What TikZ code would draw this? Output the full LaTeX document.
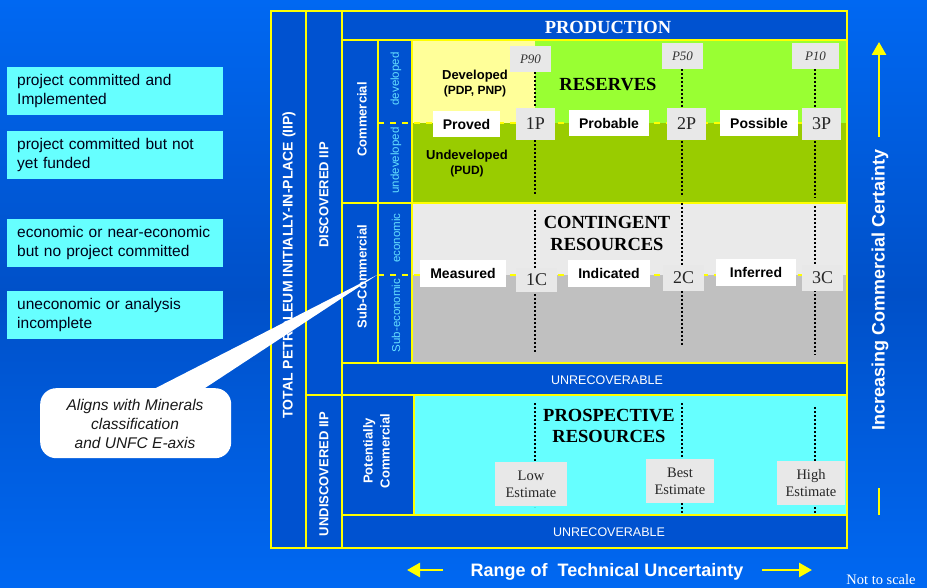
\documentclass[tikz,border=0pt]{standalone}
\usepackage{fontspec}
\setmainfont{Liberation Serif}
\setsansfont{Liberation Sans}
\usetikzlibrary{arrows.meta}
\newcommand{\fsz}[2]{\fontsize{#1}{#2}\selectfont}
\definecolor{bgtop}{HTML}{0068F2}
\definecolor{bgmid}{HTML}{0050C8}
\definecolor{boxblue}{HTML}{0052D0}
\definecolor{yel}{HTML}{FFFF00}
\definecolor{cyanbox}{HTML}{66FFFF}
\definecolor{cyantxt}{HTML}{66E0FF}
\definecolor{resgreen}{HTML}{99FF33}
\definecolor{undgreen}{HTML}{99CC00}
\definecolor{devyellow}{HTML}{FFFF99}
\definecolor{contlight}{HTML}{EAEAEA}
\definecolor{contgrey}{HTML}{C0C0C0}
\definecolor{labgrey}{HTML}{E8E8E8}
\begin{document}
\begin{tikzpicture}[x=1pt,y=-1pt,
 frame/.style={draw=yel,line width=2pt},
 dashy/.style={draw=yel,line width=1.6pt,dash pattern=on 6pt off 6pt},
 dotln/.style={draw=black,line width=2pt,dash pattern=on 2pt off 2pt},
 title/.style={font=\rmfamily\bfseries\fsz{18.5}{21.5},align=center,text=black},
 wlbl/.style={fill=white,font=\sffamily\bfseries\fsz{14}{16},text=black,inner sep=0pt,minimum height=26pt},
 glbl/.style={fill=labgrey,font=\rmfamily\fsz{18}{20},text=black!85,inner sep=0pt},
 plbl/.style={fill=labgrey,font=\rmfamily\itshape\fsz{13}{15},text=black!80,inner sep=0pt,minimum height=26pt},
 elbl/.style={fill=labgrey,font=\rmfamily\fsz{14.5}{17},text=black!85,inner sep=0pt,align=center,minimum height=44pt},
 vlbl/.style={rotate=90,font=\sffamily\bfseries\fsz{13}{17},text=white,align=center},
 clbl/.style={rotate=90,font=\sffamily\fsz{11.5}{13},text=cyantxt},
 devtxt/.style={font=\sffamily\bfseries\fsz{13}{15},text=black,align=center},
 leftbox/.style={fill=cyanbox,anchor=north west,minimum width=216pt,minimum height=48pt,text width=196pt,inner xsep=10pt,inner ysep=0pt,align=left,font=\sffamily\fsz{15.5}{19},text=black!90!blue},
 arr/.style={draw=yel,line width=2.7pt,-{Triangle[width=14pt,length=13pt]}},
 unrec/.style={font=\sffamily\fsz{12.5}{14},text=white}
]
% background
\shade[top color=bgtop,bottom color=bgtop,middle color=bgmid] (0,0) rectangle (927,588);
\useasboundingbox (0,0) rectangle (927,588);

% left explanation boxes
\node[leftbox] (lb1) at (7,67) {project committed and\\Implemented};
\node[leftbox] (lb2) at (7,131) {project committed but not\\yet funded};
\node[leftbox] (lb3) at (7,219) {economic or near-economic\\but no project committed};
\node[leftbox] (lb4) at (7,291) {uneconomic or analysis\\incomplete};

% frame fills
\fill[boxblue] (271,11) rectangle (847,548);
\fill[resgreen] (412,40) rectangle (847,123);
\fill[undgreen] (412,123) rectangle (847,203);
\fill[devyellow] (413,41) rectangle (535,123);
\fill[contlight] (412,203) rectangle (847,275);
\fill[contgrey] (412,275) rectangle (847,363);
\fill[cyanbox] (414,395) rectangle (847,515);

% dashed dividers
\draw[dashy] (378,123) -- (847,123);
\draw[dashy] (378,275) -- (847,275);

% frame lines
\draw[frame] (271,11) rectangle (847,548);
\draw[frame] (306,11) -- (306,548);
\draw[frame] (342,11) -- (342,548);
\draw[frame] (342,40) -- (847,40);
\draw[frame] (306,395) -- (847,395);
\draw[frame] (342,203) -- (847,203);
\draw[frame] (342,363) -- (847,363);
\draw[frame] (342,515) -- (847,515);
\draw[frame] (378,40) -- (378,363);
\draw[frame] (412,40) -- (412,363);
\draw[frame] (414,395) -- (414,515);

% dotted lines
\draw[dotln] (535,72) -- (535,195);
\draw[dotln] (682,69) -- (682,195);
\draw[dotln] (815,69) -- (815,198);
\draw[dotln] (535,210) -- (535,353);
\draw[dotln] (682,203) -- (682,345);
\draw[dotln] (815,206) -- (815,355);
\draw[dotln] (535,403) -- (535,507);
\draw[dotln] (682,403) -- (682,513);
\draw[dotln] (815,407) -- (815,513);

% titles
\node[font=\rmfamily\bfseries\fsz{18.5}{21},text=white] (prod) at (608,27) {PRODUCTION};
\node[title] (res) at (608,85) {RESERVES};
\node[title] (cont) at (607,233.5) {CONTINGENT\\RESOURCES};
\node[title] (prosp) at (609,426) {PROSPECTIVE\\RESOURCES};

% developed / undeveloped texts
\node[devtxt] (dev) at (475,84) {Developed\\{\fsz{12}{15}(PDP, PNP)}};
\node[devtxt] (undev) at (467,164) {Undeveloped\\{\fsz{12}{15}(PUD)}};

% P labels
\node[plbl,minimum width=41pt] (p90) at (530.5,59) {P90};
\node[plbl,minimum width=41pt] (p50) at (682.5,56) {P50};
\node[plbl,minimum width=47pt] (p10) at (815.5,56) {P10};

% reserves row
\node[wlbl,minimum width=67pt] (proved) at (466.5,124) {Proved};
\node[glbl,minimum width=39pt,minimum height=32pt] (p1) at (535.5,124) {1P};
\node[wlbl,minimum width=80pt] (probable) at (609,123) {Probable};
\node[glbl,minimum width=39pt,minimum height=32pt] (p2) at (686.5,124) {2P};
\node[wlbl,minimum width=78pt] (possible) at (759,123) {Possible};
\node[glbl,minimum width=39pt,minimum height=32pt] (p3) at (821.5,124) {3P};

% contingent row
\node[wlbl,minimum width=86pt,minimum height=27pt] (measured) at (463,273.5) {Measured};
\node[glbl,minimum width=41pt,minimum height=24pt] (c1) at (536.5,280) {1C};
\node[wlbl,minimum width=82pt,minimum height=27pt] (indicated) at (609,273.5) {Indicated};
\node[glbl,minimum width=41pt,minimum height=26pt] (c2) at (683.5,278) {2C};
\node[wlbl,minimum width=80pt,minimum height=27pt] (inferred) at (756,272.5) {Inferred};
\node[glbl,minimum width=41pt,minimum height=26pt] (c3) at (822.5,278) {3C};

% estimates
\node[elbl,minimum width=72pt] (low) at (531,484) {Low\\Estimate};
\node[elbl,minimum width=68pt] (best) at (680,481) {Best\\Estimate};
\node[elbl,minimum width=68pt] (high) at (811,483) {High\\Estimate};

% unrecoverable
\node[unrec] (unrec1) at (607,380) {UNRECOVERABLE};
\node[unrec] (unrec2) at (609,532) {UNRECOVERABLE};

% vertical column labels
\node[vlbl,font=\sffamily\bfseries\fsz{14}{17}] (total) at (289,265) {TOTAL PETROLEUM INITIALLY-IN-PLACE (IIP)};
\node[vlbl] (disc) at (324,195) {DISCOVERED IIP};
\node[vlbl] (undisc) at (324,474) {UNDISCOVERED IIP};
\node[vlbl] (comm) at (362,119.5) {Commercial};
\node[vlbl] (subcomm) at (362,276.5) {Sub-Commercial};
\node[vlbl] (potcomm) at (376.5,451) {Potentially\\Commercial};
\node[clbl] (devd) at (396,79) {developed};
\node[clbl] (undevd) at (396,160.5) {undeveloped};
\node[clbl] (econ) at (396,238) {economic};
\node[clbl] (subecon) at (396,315.5) {Sub-economic};

% callout
\node[fill=white,rounded corners=16pt,minimum width=191pt,minimum height=70pt,anchor=north west] (callout) at (40,388) {};
\node[font=\sffamily\itshape\fsz{15.5}{19},text=black!90,align=center] (callouttxt) at (135,424) {Aligns with Minerals\\classification\\and UNFC E-axis};
\coordinate (tip) at (377,275);
\fill[white] ([xshift=112pt,yshift=-2pt]callout.north west) -- (tip) -- ([xshift=162pt,yshift=-2pt]callout.north west) -- cycle;

% right axis
\coordinate (upbot) at (879,137);
\coordinate (uptop) at (879,42);
\draw[arr] (upbot) -- (uptop);
\coordinate (lowa) at (879,488);
\coordinate (lowb) at (879,515);
\draw[draw=yel,line width=2.7pt] (lowa) -- (lowb);
\node[rotate=90,font=\sffamily\bfseries\fsz{18}{20},text=white] (certainty) at (880,290) {Increasing Commercial Certainty};

% bottom axis
\node[font=\sffamily\bfseries\fsz{18}{20},text=white] (range) at (607,572) {Range of\ \ Technical Uncertainty};
\coordinate (la) at (443,570);
\coordinate (lb) at (407,570);
\draw[arr] (la) -- (lb);
\coordinate (ra) at (762,570);
\coordinate (rb) at (812,570);
\draw[arr] (ra) -- (rb);

\node[font=\rmfamily\fsz{14.5}{16},text=white] (nts) at (881,580) {Not to scale};
\end{tikzpicture}
\end{document}
